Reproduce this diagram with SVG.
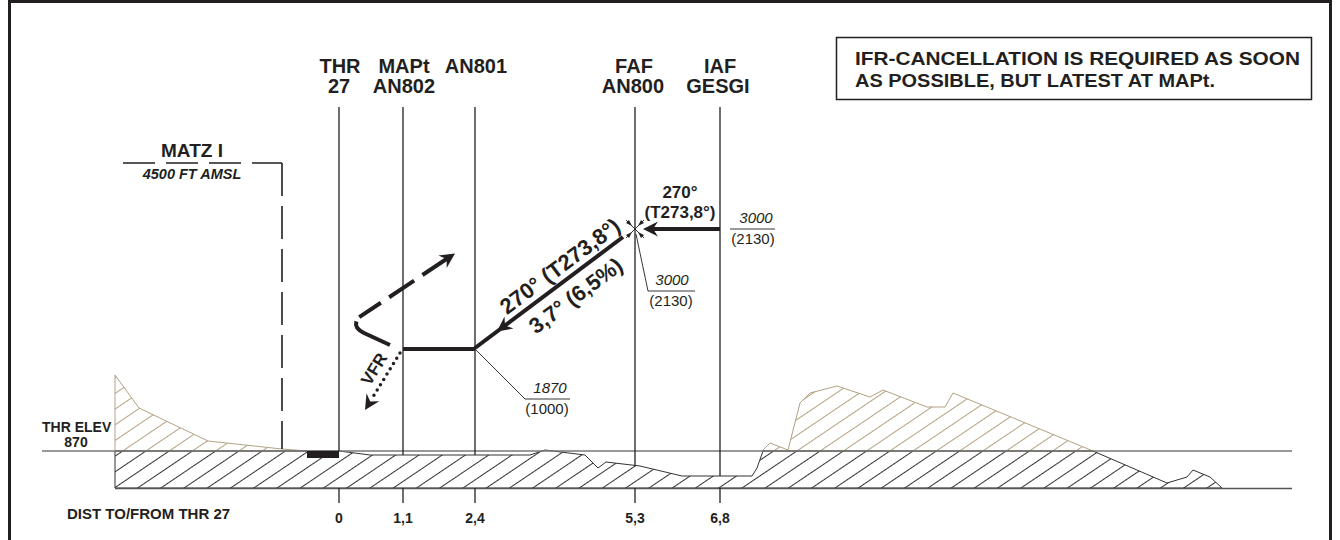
<svg xmlns="http://www.w3.org/2000/svg" width="1340" height="540" viewBox="0 0 1340 540">
<style>
text{font-family:"Liberation Sans",Arial,sans-serif;fill:#231f20}
.b{font-weight:bold}
.lbl{font-size:20px;font-weight:bold;text-anchor:middle}
.dist{font-size:14px;font-weight:bold;text-anchor:middle}
.alt{font-size:15px;font-style:italic;text-anchor:middle}
.altp{font-size:15px;text-anchor:middle}
.vl{stroke:#231f20;stroke-width:1.3;fill:none}
.thin{stroke:#231f20;stroke-width:0.9;fill:none}
.thick{stroke:#231f20;stroke-width:4;fill:none}
.ah{fill:#231f20}
</style>
<defs>
<pattern id="hb" patternUnits="userSpaceOnUse" width="13" height="13" patternTransform="rotate(-34)">
<line x1="0" y1="0.5" x2="13" y2="0.5" stroke="#333" stroke-width="1"/>
</pattern>
<pattern id="hbr" patternUnits="userSpaceOnUse" width="13" height="13" patternTransform="rotate(-34)">
<line x1="0" y1="0.5" x2="13" y2="0.5" stroke="#b3a283" stroke-width="1"/>
</pattern>
<path id="head" d="M0,0 L-15,-7.5 L-10,0 L-15,7.5 Z"/>
</defs>
<rect x="9.5" y="1.5" width="1321" height="580" fill="none" stroke="#231f20" stroke-width="3"/>

<g id="terrain">
<polygon points="115,451 115,375 139,408 208,441 282,449 307,451" fill="url(#hbr)" stroke="#b3a283" stroke-width="1"/>
<polygon points="762,451 770,443 788,450 800,403 810,393 837,386 870,397 883,390 927,407 945,407 953,393 1093,451" fill="url(#hbr)" stroke="#b3a283" stroke-width="1"/>
<polygon points="115,451 339,451 370,455 530,455 545,450 585,455 598,468 606,462 640,466 682,476 752,476 757,468 763,451 1093,451 1167,483 1187,477 1193,470 1210,477 1222,488 115,488" fill="url(#hb)" stroke="#333" stroke-width="1"/>
<line x1="42" y1="451" x2="1292" y2="451" stroke="#777" stroke-width="1.3"/>
<line x1="115" y1="488.5" x2="1292" y2="488.5" stroke="#555" stroke-width="1.5"/>
<rect x="307" y="451" width="32" height="7" fill="#231f20"/>
</g>

<g id="connectors">
<line class="vl" x1="339" y1="107" x2="339" y2="451"/>
<line class="vl" x1="403" y1="107" x2="403" y2="455"/>
<line class="vl" x1="475" y1="107" x2="475" y2="455"/>
<line class="vl" x1="635" y1="107" x2="635" y2="466"/>
<line class="vl" x1="720" y1="107" x2="720" y2="476"/>
<line class="vl" x1="339" y1="488" x2="339" y2="503"/>
<line class="vl" x1="403" y1="488" x2="403" y2="503"/>
<line class="vl" x1="475" y1="488" x2="475" y2="503"/>
<line class="vl" x1="635" y1="488" x2="635" y2="503"/>
<line class="vl" x1="720" y1="488" x2="720" y2="503"/>
<line x1="123" y1="163" x2="282" y2="163" stroke="#231f20" stroke-width="1.6" stroke-dasharray="32 11"/>
<line x1="282" y1="163" x2="282" y2="449" stroke="#231f20" stroke-width="1.6" stroke-dasharray="33 10"/>
<line class="thick" x1="720" y1="229" x2="648" y2="229"/>
<use href="#head" class="ah" transform="translate(643,229) rotate(180)"/>
<line class="thin" x1="626" y1="220" x2="644" y2="238"/>
<line class="thin" x1="644" y1="220" x2="626" y2="238"/>
<polygon class="ah" points="632,226 626,223 629,220"/>
<polygon class="ah" points="638,226 641,220 644,223"/>
<polygon class="ah" points="632,232 629,238 626,235"/>
<polygon class="ah" points="638,232 644,235 641,238"/>
<line class="thick" x1="623" y1="237" x2="475" y2="348"/>
<use href="#head" class="ah" transform="translate(497,331.5) rotate(143.13)"/>
<line class="thick" x1="475" y1="349" x2="403" y2="349"/>
<path d="M390,345 L364,333 Q352,327 358,318 L451,256" fill="none" stroke="#231f20" stroke-width="4" stroke-dasharray="44 5 26 10 30 10 60"/>
<use href="#head" class="ah" transform="translate(455,253.5) rotate(-33.7)"/>
<line x1="400" y1="353" x2="371" y2="400" stroke="#231f20" stroke-width="3.5" stroke-linecap="round" stroke-dasharray="0 6.2"/>
<use href="#head" class="ah" transform="translate(365,410) rotate(121.7)"/>
<polyline class="thin" points="636,234 648,291 695,291"/>
<polyline class="thin" points="475,349 525,399 570,399"/>
<line class="thin" x1="730" y1="229" x2="775" y2="229"/>
</g>

<g id="node-thr"><text class="lbl" x="340" y="73">THR</text><text class="lbl" x="339" y="93">27</text></g>
<g id="node-mapt"><text class="lbl" x="404" y="73">MAPt</text><text class="lbl" x="404" y="93">AN802</text></g>
<g id="node-an801"><text class="lbl" x="476" y="73">AN801</text></g>
<g id="node-faf"><text class="lbl" x="634" y="73">FAF</text><text class="lbl" x="633" y="93">AN800</text></g>
<g id="node-iaf"><text class="lbl" x="720" y="73">IAF</text><text class="lbl" x="718" y="93">GESGI</text></g>

<g id="note">
<rect x="836.5" y="37.5" width="475" height="62" fill="none" stroke="#231f20" stroke-width="1.5"/>
<text class="b" x="855" y="65" font-size="18" textLength="445" lengthAdjust="spacingAndGlyphs">IFR-CANCELLATION IS REQUIRED AS SOON</text>
<text class="b" x="855" y="87" font-size="18" textLength="360" lengthAdjust="spacingAndGlyphs">AS POSSIBLE, BUT LATEST AT MAPt.</text>
</g>

<g id="matz">
<text class="b" x="192" y="157" font-size="19" text-anchor="middle">MATZ I</text>
<text class="b" x="192" y="179" font-size="14.5" font-style="italic" text-anchor="middle">4500 FT AMSL</text>
</g>

<g id="track-labels">
<text class="b" x="680" y="198" font-size="17" text-anchor="middle">270°</text>
<text class="b" x="680" y="218" font-size="17" text-anchor="middle">(T273,8°)</text>
<g transform="translate(475,348) rotate(-36.87)">
<text class="b" x="117" y="-7" font-size="22" text-anchor="middle">270° (T273,8°)</text>
<text class="b" x="112" y="26" font-size="22" text-anchor="middle">3,7° (6,5%)</text>
</g>
<text class="b" font-size="17" text-anchor="middle" transform="translate(379,372) rotate(-58.3)">VFR</text>
</g>

<g id="altitudes">
<text class="alt" x="756" y="223">3000</text>
<text class="altp" x="753" y="244">(2130)</text>
<text class="alt" x="672" y="285">3000</text>
<text class="altp" x="671" y="306">(2130)</text>
<text class="alt" x="550" y="393">1870</text>
<text class="altp" x="547" y="414">(1000)</text>
</g>

<g id="axis">
<text class="b" x="42" y="432" font-size="14">THR ELEV</text>
<text class="b" x="76" y="447" font-size="14" text-anchor="middle">870</text>
<text class="b" x="67" y="519" font-size="15">DIST TO/FROM THR 27</text>
<text class="dist" x="339" y="523">0</text>
<text class="dist" x="403" y="523">1,1</text>
<text class="dist" x="475" y="523">2,4</text>
<text class="dist" x="635" y="523">5,3</text>
<text class="dist" x="720" y="523">6,8</text>
</g>
</svg>
